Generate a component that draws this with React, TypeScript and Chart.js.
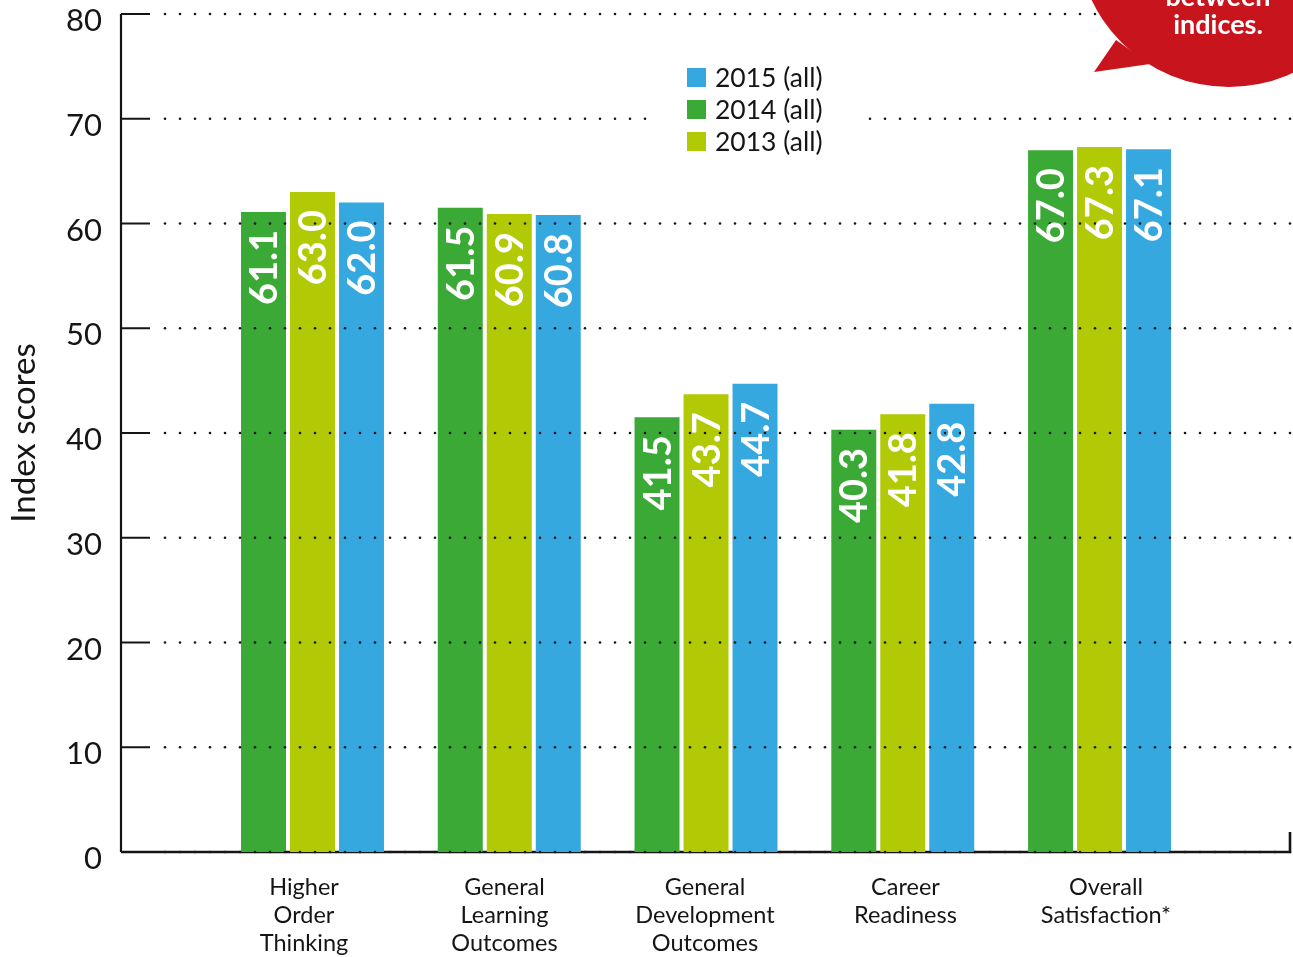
import React, { useEffect, useRef } from 'react';
import { Chart, registerables } from 'chart.js';

Chart.register(...registerables);

// ---- data ----
const categories: string[][] = [
  ['Higher', 'Order', 'Thinking'],
  ['General', 'Learning', 'Outcomes'],
  ['General', 'Development', 'Outcomes'],
  ['Career', 'Readiness'],
  ['Overall', 'Satisfaction*'],
];
const series2014: number[] = [61.1, 61.5, 41.5, 40.3, 67.0];
const series2013: number[] = [63.0, 60.9, 43.7, 41.8, 67.3];
const series2015: number[] = [62.0, 60.8, 44.7, 42.8, 67.1];
const seriesLabels: string[] = ['2014 (all)', '2013 (all)', '2015 (all)'];
const legendOrder: string[] = ['2015 (all)', '2014 (all)', '2013 (all)'];
const yTickValues: number[] = [0, 10, 20, 30, 40, 50, 60, 70, 80];
const yTitle = 'Index scores';
const calloutLines: string[] = ['between', 'indices.'];

// ---- styles ----
const GREEN = '#3aa935';
const LIME = '#b2c905';
const BLUE = '#36a8e0';
const RED = '#c8141d';
const INK = '#151515';
const FONT = 'Lato, "Open Sans", sans-serif';

const customPlugin = {
  id: 'customDraw',
  beforeDatasetsDraw(chart: any) {
    const { ctx, chartArea: a } = chart;
    ctx.save();
    ctx.strokeStyle = INK;
    ctx.lineWidth = 2.2;
    ctx.beginPath();
    ctx.moveTo(a.left, a.top);
    ctx.lineTo(a.left, a.bottom);
    ctx.stroke();
    ctx.lineWidth = 2.6;
    ctx.beginPath();
    ctx.moveTo(a.left, a.bottom);
    ctx.lineTo(a.right, a.bottom);
    ctx.lineTo(a.right, a.bottom - 20);
    ctx.stroke();
    ctx.restore();
  },
  afterDatasetsDraw(chart: any) {
    const { ctx, chartArea: a } = chart;
    const yScale = chart.scales.y;
    ctx.save();

    // grid: short solid stub + dotted line
    ctx.fillStyle = INK;
    ctx.strokeStyle = INK;
    for (const v of yTickValues) {
      const py = yScale.getPixelForValue(v);
      ctx.lineWidth = 2;
      ctx.beginPath();
      ctx.moveTo(a.left, py);
      ctx.lineTo(a.left + 29, py);
      ctx.stroke();
      for (let x = a.left + 29 + 15; x <= a.right + 0.5; x += 15) {
        ctx.beginPath();
        ctx.arc(x, py, 1.3, 0, Math.PI * 2);
        ctx.fill();
      }
    }

    // legend (custom block)
    ctx.fillStyle = '#ffffff';
    ctx.fillRect(651, 56, 215, 104);
    ctx.font = `26.5px ${FONT}`;
    ctx.textBaseline = 'middle';
    ctx.textAlign = 'left';
    legendOrder.forEach((lab, i) => {
      const dsIndex = chart.data.datasets.findIndex((d: any) => d.label === lab);
      const color = chart.data.datasets[dsIndex].backgroundColor;
      const top = 68 + i * 32;
      ctx.fillStyle = color;
      ctx.fillRect(687, top, 19, 19);
      ctx.fillStyle = INK;
      ctx.fillText(lab, 715, top + 10);
    });

    // value labels on bars
    ctx.fillStyle = '#ffffff';
    ctx.font = `bold 38px ${FONT}`;
    chart.data.datasets.forEach((ds: any, di: number) => {
      const meta = chart.getDatasetMeta(di);
      meta.data.forEach((el: any, i: number) => {
        const val = ds.data[i].y;
        ctx.save();
        ctx.translate(el.x + 13.5, el.y + 18);
        ctx.rotate(-Math.PI / 2);
        ctx.textAlign = 'right';
        ctx.textBaseline = 'alphabetic';
        ctx.fillText(val.toFixed(1), 0, 0);
        ctx.restore();
      });
    });

    // callout bubble
    ctx.fillStyle = RED;
    ctx.strokeStyle = '#ffffff';
    ctx.lineWidth = 4;
    ctx.beginPath();
    ctx.arc(1229, -65, 152, 0, Math.PI * 2);
    ctx.stroke();
    ctx.beginPath();
    ctx.moveTo(1116, 40);
    ctx.lineTo(1094, 72);
    ctx.lineTo(1150, 64);
    ctx.closePath();
    ctx.fill();
    ctx.beginPath();
    ctx.arc(1229, -65, 152, 0, Math.PI * 2);
    ctx.fill();
    ctx.fillStyle = '#ffffff';
    ctx.font = `bold 27px ${FONT}`;
    ctx.textAlign = 'center';
    ctx.textBaseline = 'alphabetic';
    calloutLines.forEach((line, i) => {
      ctx.fillText(line, 1218, 6 + i * 28);
    });

    // y-axis title
    ctx.fillStyle = INK;
    ctx.font = `33px ${FONT}`;
    ctx.translate(35, (a.top + a.bottom) / 2);
    ctx.rotate(-Math.PI / 2);
    ctx.textAlign = 'center';
    ctx.textBaseline = 'alphabetic';
    ctx.fillText(yTitle, 0, 0);

    ctx.restore();
  },
};

export default function App() {
  const canvasRef = useRef<HTMLCanvasElement | null>(null);

  useEffect(() => {
    if (!canvasRef.current) return;
    const toPoints = (arr: number[]) => arr.map((v, i) => ({ x: i, y: v }));
    const chart = new Chart(canvasRef.current, {
      type: 'bar',
      data: {
        datasets: [
          { label: seriesLabels[0], data: toPoints(series2014), backgroundColor: GREEN },
          { label: seriesLabels[1], data: toPoints(series2013), backgroundColor: LIME },
          { label: seriesLabels[2], data: toPoints(series2015), backgroundColor: BLUE },
        ] as any,
      },
      options: {
        responsive: false,
        animation: false,
        devicePixelRatio: 1,
        layout: { padding: { top: 14, right: 3, left: 0, bottom: 0 } },
        datasets: {
          bar: { categoryPercentage: 0.747, barPercentage: 0.918, borderWidth: 0 },
        },
        plugins: {
          legend: { display: false },
          tooltip: { enabled: false },
        },
        scales: {
          x: {
            type: 'linear',
            display: false,
            min: -0.9733,
            max: 4.968,
            bounds: 'data',
            offset: false,
            afterBuildTicks: (s: any) => {
              s.ticks = categories.map((_, i) => ({ value: i }));
            },
          },
          xLabels: {
            type: 'linear',
            position: 'bottom',
            axis: 'x',
            min: -0.9127,
            max: 4.918,
            bounds: 'data',
            offset: false,
            grid: { display: false, drawTicks: false },
            border: { display: false },
            afterBuildTicks: (s: any) => {
              s.ticks = categories.map((_, i) => ({ value: i }));
            },
            afterFit: (s: any) => {
              s.height = 105;
              s.paddingLeft = 0;
              s.paddingRight = 0;
            },
            ticks: {
              autoSkip: false,
              maxRotation: 0,
              minRotation: 0,
              padding: 21,
              color: INK,
              font: { family: FONT, size: 23.5, lineHeight: 28 / 23.5 },
              callback: (v: any) => categories[Math.round(Number(v))] ?? '',
            },
          },
          y: {
            type: 'linear',
            min: 0,
            max: 80,
            grid: { display: false, drawTicks: false },
            border: { display: false },
            afterBuildTicks: (s: any) => {
              s.ticks = yTickValues.map((v) => ({ value: v }));
            },
            afterFit: (s: any) => {
              s.width = 121;
              s.paddingTop = 0;
              s.paddingBottom = 0;
            },
            ticks: {
              padding: 19,
              labelOffset: 7,
              color: INK,
              font: { family: FONT, size: 31 },
              callback: (v: any) => String(v),
            },
          },
        } as any,
      },
      plugins: [customPlugin],
    });
    return () => chart.destroy();
  }, []);

  return (
    <div style={{ position: 'fixed', left: 0, top: 0, width: 1293, height: 957, background: '#ffffff' }}>
      <canvas ref={canvasRef} width={1293} height={957} style={{ display: 'block' }} />
    </div>
  );
}
